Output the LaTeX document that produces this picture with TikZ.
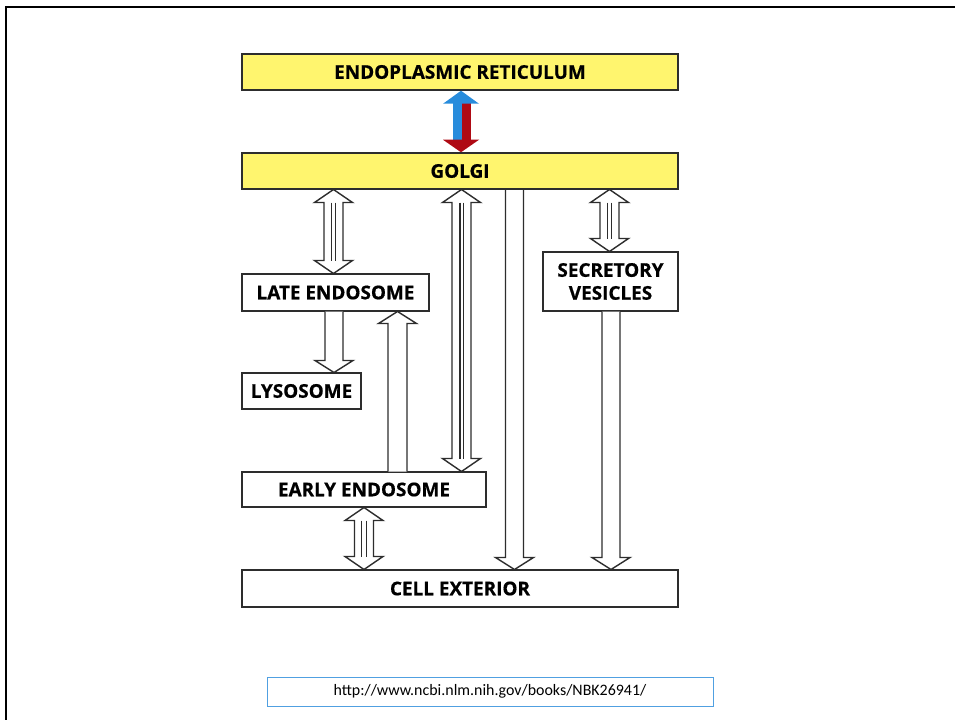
\documentclass[tikz,border=0pt]{standalone}
\usepackage{fontspec}
\newfontfamily\labfont{Open Sans}[BoldFeatures={FakeBold=0.6}]
\newfontfamily\urlfont{Carlito}
\definecolor{boxyellow}{RGB}{255,245,110}
\definecolor{erblue}{RGB}{40,140,220}
\definecolor{erred}{RGB}{175,10,20}
\definecolor{edge}{RGB}{45,45,45}
\definecolor{urlblue}{RGB}{80,160,225}
\tikzset{
  organelle/.style={draw=edge, line width=1.5bp, fill=white, inner sep=0pt,
     font=\labfont\bfseries\fontsize{19}{22}\selectfont, align=center},
  yellowbox/.style={organelle, fill=boxyellow},
  hollow/.style={draw=edge, line width=1.4bp, fill=white, line join=miter},
}
% double hollow arrow: cx, ytop, ybot, inner half-gap
\newcommand{\dblhollow}[4]{%
  \draw[hollow] (#1,#2) -- ++(19,13) -- ++(-9.5,0) -- (#1+9.5,#3-13) -- ++(9.5,0)
     -- (#1,#3) -- ++(-19,-13) -- ++(9.5,0) -- (#1-9.5,#2+13) -- ++(-9.5,0) -- cycle;
  \draw[edge, line width=1.2bp] (#1-#4,#2+13) -- (#1-#4,#3-13)
                                 (#1+#4,#2+13) -- (#1+#4,#3-13);}
% single hollow arrow pointing down: cx, ytop, ytip
\newcommand{\downhollow}[3]{%
  \draw[hollow] (#1-9,#2) -- (#1-9,#3-12) -- ++(-10,0) -- (#1,#3) -- (#1+19,#3-12)
     -- ++(-10,0) -- (#1+9,#2);}
% single hollow arrow pointing up: cx, ybottom, ytip
\newcommand{\uphollow}[3]{%
  \draw[hollow] (#1-9.5,#2) -- (#1-9.5,#3+12) -- ++(-9.5,0) -- (#1,#3) -- (#1+19,#3+12)
     -- ++(-9.5,0) -- (#1+9.5,#2);}
\begin{document}
\begin{tikzpicture}[x=1bp,y=-1bp]
\useasboundingbox (0,0) rectangle (955,720);
\clip (0,0) rectangle (955,720);
\fill[white] (0,0) rectangle (955,720);
\draw[line width=2.5bp, black] (6,7) rectangle (1000,800);

% boxes
\node[yellowbox, minimum width=436bp, minimum height=36bp] (er) at (460,72) {ENDOPLASMIC RETICULUM};
\node[yellowbox, minimum width=436bp, minimum height=36bp] (golgi) at (460,171) {GOLGI};
\node[organelle, minimum width=187bp, minimum height=37bp] (late) at (335.5,292.5) {LATE ENDOSOME};
\node[organelle, minimum width=119bp, minimum height=36bp] (lyso) at (301.5,391) {LYSOSOME};
\node[organelle, minimum width=244bp, minimum height=35bp] (early) at (364,489.5) {EARLY ENDOSOME};
\node[organelle, minimum width=135bp, minimum height=59bp, font=\labfont\bfseries\fontsize{19}{23}\selectfont] (secr) at (610.5,281.5) {SECRETORY\\VESICLES};
\node[organelle, minimum width=436bp, minimum height=37bp] (cell) at (460,588.5) {CELL EXTERIOR};
\node[draw=urlblue, line width=1bp, fill=white, minimum width=446bp, minimum height=29bp,
      font=\urlfont\fontsize{16}{19}\selectfont] (url) at (490,691.5) {http://www.ncbi.nlm.nih.gov/books/NBK26941/};

% ER <-> Golgi coloured arrow
\coordinate (ertip) at (er.south -| 461,0);
\coordinate (gotip) at (golgi.north -| 461,0);
\fill[erred] (462,103) rectangle (471,141);
\fill[erblue] (452.5,103) rectangle (462,141);
\fill[erblue] (ertip) -- ++(18,13) -- ++(-36,0) -- cycle;
\fill[erred] (gotip) -- ++(18,-12.5) -- ++(-36,0) -- cycle;

% hollow arrows
\dblhollow{333.5}{189.5}{273.5}{2.3}
\dblhollow{461.5}{189.5}{471.5}{1.6}
\dblhollow{609.5}{189.5}{251.5}{2.3}
\dblhollow{364}{507.5}{569.5}{2.3}
\downhollow{514.5}{190}{569.5}
\downhollow{611}{311.5}{569.5}
\downhollow{334}{311.5}{372.5}
\uphollow{397.5}{471.5}{311.5}
\end{tikzpicture}
\end{document}
